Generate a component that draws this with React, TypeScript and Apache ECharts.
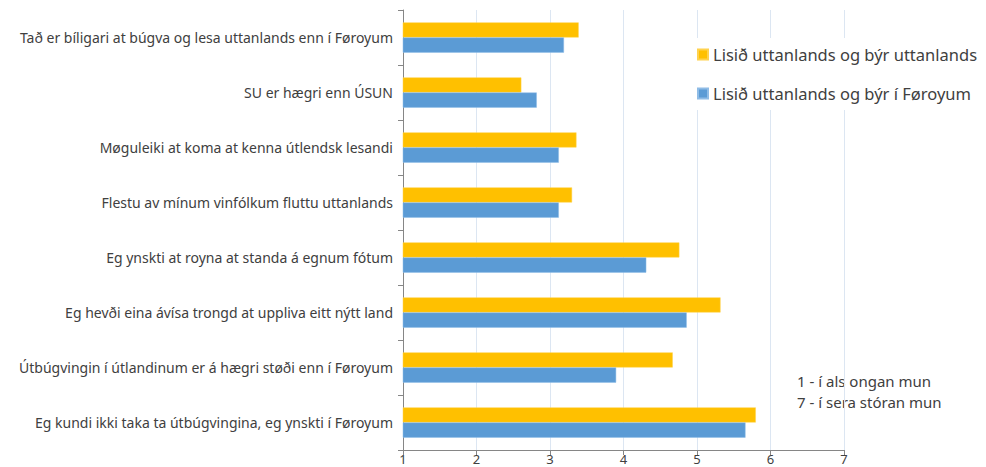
import React, { useEffect, useRef } from "react";
import * as echarts from "echarts";

const categories = [
  "Tað er bíligari at búgva og lesa uttanlands enn í Føroyum",
  "SU er hægri enn ÚSUN",
  "Møguleiki at koma at kenna útlendsk lesandi",
  "Flestu av mínum vinfólkum fluttu uttanlands",
  "Eg ynskti at royna at standa á egnum fótum",
  "Eg hevði eina ávísa trongd at uppliva eitt nýtt land",
  "Útbúgvingin í útlandinum er á hægri støði enn í Føroyum",
  "Eg kundi ikki taka ta útbúgvingina, eg ynskti í Føroyum",
];
const seriesNames = ["Lisið uttanlands og býr uttanlands", "Lisið uttanlands og býr í Føroyum"];
const abroadValues = [3.39, 2.61, 3.36, 3.3, 4.76, 5.32, 4.67, 5.8];
const faroeValues = [3.19, 2.82, 3.12, 3.12, 4.31, 4.86, 3.9, 5.66];
const noteLines = ["1 - í als ongan mun", "7 - í sera stóran mun"];

const FONT = "'Noto Sans', sans-serif";

export default function App() {
  const ref = useRef<HTMLDivElement>(null);
  useEffect(() => {
    if (!ref.current) return;
    const chart = echarts.init(ref.current, null, { renderer: "svg" });
    chart.setOption({
      animation: false,
      textStyle: { fontFamily: FONT },
      grid: { left: 395, right: 134, top: 2, bottom: 17, containLabel: false },
      legend: {
        orient: "vertical",
        left: 681,
        top: 30,
        itemWidth: 10,
        itemHeight: 10,
        itemGap: 22,
        padding: [8, 20, 8, 8],
        backgroundColor: "#ffffff",
        icon: "rect",
        textStyle: { fontSize: 16.5, color: "#404040", fontFamily: FONT },
        data: seriesNames,
      },
      xAxis: {
        type: "value",
        min: 1,
        max: 7,
        interval: 1,
        axisLine: { show: true, lineStyle: { color: "#868686" } },
        axisTick: { show: true, length: 5, lineStyle: { color: "#868686" } },
        axisLabel: { fontSize: 13, lineHeight: 13, color: "#404040", margin: 2 },
        splitLine: { show: true, lineStyle: { color: "#dce6f2" } },
      },
      yAxis: {
        type: "category",
        inverse: true,
        data: categories,
        axisLine: { show: true, lineStyle: { color: "#868686" } },
        axisTick: { show: true, length: 5, lineStyle: { color: "#868686" } },
        axisLabel: { fontSize: 14, color: "#404040", margin: 10 },
      },
      graphic: [
        {
          type: "text",
          left: 789,
          top: 362,
          style: {
            text: noteLines.join("\n"),
            fontSize: 15,
            lineHeight: 21,
            fill: "#404040",
            fontFamily: FONT,
          },
        },
      ],
      series: [
        {
          name: seriesNames[0],
          type: "bar",
          data: abroadValues,
          itemStyle: { color: "#FFC000", borderColor: "#FFD24D", borderWidth: 0.5 },
          barGap: "0%",
          barCategoryGap: "45%",
        },
        {
          name: seriesNames[1],
          type: "bar",
          data: faroeValues,
          itemStyle: { color: "#5B9BD5", borderColor: "#8FBCE6", borderWidth: 0.5 },
          barGap: "0%",
          barCategoryGap: "45%",
        },
      ],
    });
    return () => chart.dispose();
  }, []);
  return <div ref={ref} style={{ width: 970, height: 459 }} />;
}
